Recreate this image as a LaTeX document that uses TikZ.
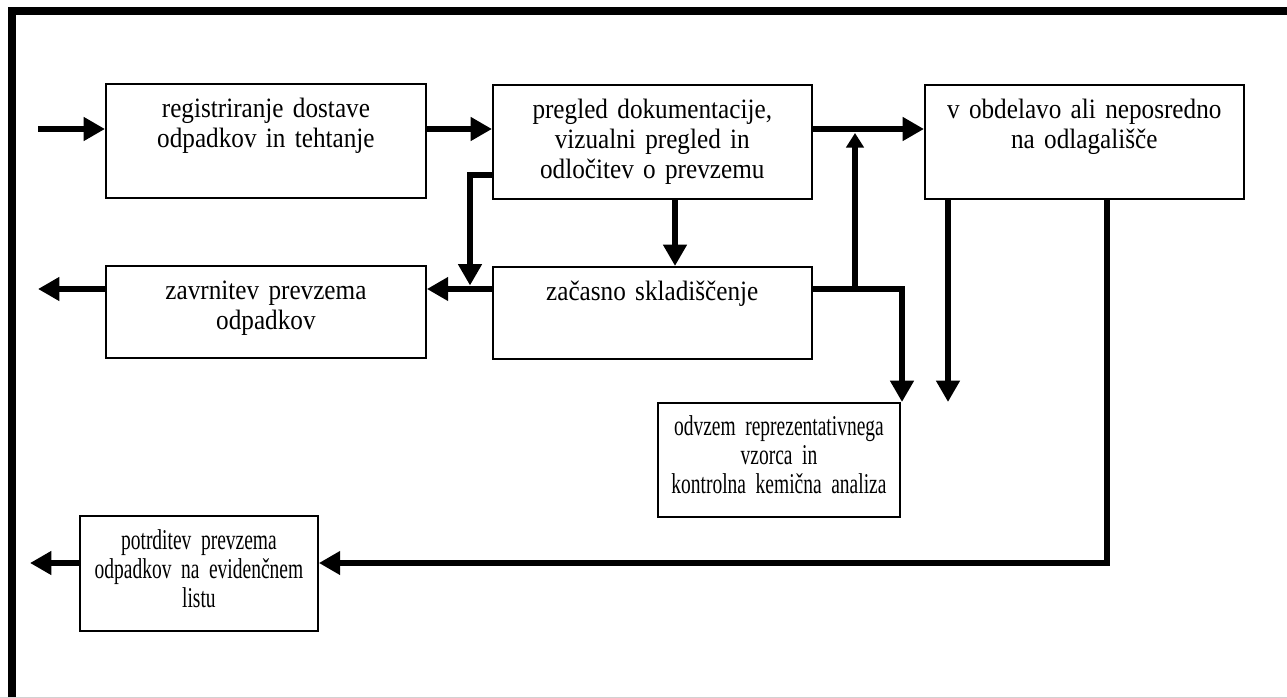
\documentclass[tikz,border=0pt]{standalone}
\usepackage{fontspec}
\setmainfont{Liberation Serif}[FakeStretch=0.9,WordSpace=0.8]
\newfontfamily\narrowfam{Liberation Serif}[FakeStretch=0.68,WordSpace=0.65]
\usepackage{tikz}
\usetikzlibrary{arrows.meta}

\tikzset{
  blk/.style={draw, line width=1.4pt, anchor=north west, inner sep=0pt, align=center, text height=25.5pt,
    font=\fontsize{21}{22.5}\selectfont},
  blknarrow/.style={blk, font=\narrowfam\fontsize{21.5}{21.75}\selectfont},
  arr/.style={line width=5.2pt, -{Triangle[length=16pt,width=17pt]}},
  arrthin/.style={line width=4.4pt, -{Triangle[length=11pt,width=13pt]}},
}

\begin{document}
\begin{tikzpicture}[x=0.75pt,y=0.75pt,yscale=-1]
  \useasboundingbox (0,0) rectangle (1287,698);

  % frame
  \draw[line width=6pt] (1287,11.5) -- (11.5,11.5) -- (11.5,697);
  \draw[black!18, line width=1pt] (0,697.5) -- (1287,697.5);

  % boxes
  \node[blk, text width=240pt, text depth=60pt] (reg) at (105,83) {registriranje dostave\\odpadkov in tehtanje};
  \node[blk, text width=239pt, text depth=60pt] (doc) at (492,84) {pregled dokumentacije,\\vizualni pregled in\\odločitev o prevzemu};
  \node[blk, text width=239pt, text depth=60pt] (obd) at (924,84) {v obdelavo ali neposredno\\na odlagališče};
  \node[blk, text width=240pt, text depth=43.5pt] (zav) at (105,265) {zavrnitev prevzema\\odpadkov};
  \node[blk, text width=239pt, text depth=43.5pt] (zac) at (492,266) {začasno skladiščenje};
  \node[blknarrow, text width=181.5pt, text height=24.75pt, text depth=60.75pt] (odv) at (657,402) {odvzem reprezentativnega\\vzorca in\\kontrolna kemična analiza};
  \node[blknarrow, text width=178.5pt, text depth=60.75pt] (pot) at (79,515) {potrditev prevzema\\odpadkov na evidenčnem\\listu};

  % helper points
  \coordinate (in) at (38,129);
  \coordinate (zr) at (902,289);
  \coordinate (up) at (855,289);
  \coordinate (uptip) at (855,133);
  \coordinate (ol) at (948,300);
  \coordinate (or) at (1107,563);
  \coordinate (out2) at (30,563);
  \coordinate (dl) at (470,175);
  \coordinate (dlb) at (470,285.5);
  \coordinate (dm) at (675,230);
  \coordinate (out1) at (38,289);

  % connectors
  \draw[arr] (in) -- (in -| reg.west);
  \draw[arr] (reg.east |- in) -- (doc.west |- in);
  \draw[arr] (doc.east |- in) -- (obd.west |- in);
  \draw[arr] (doc.south -| dm) -- (zac.north -| dm);
  \draw[arr] (doc.west |- dl) -- (dl) -- (dlb);
  \draw[arr] (zac.west |- zr) -- (zav.east |- zr);
  \draw[arr] (zav.west |- zr) -- (out1);
  \draw[arr] (zac.east |- zr) -- (zr) -- (zr |- odv.north);
  \draw[arrthin] (up) -- (uptip);
  \draw[arr] (obd.south -| ol) -- (odv.north -| ol);
  \draw[arr] (obd.south -| or) -- (or) -- (pot.east |- or);
  \draw[arr] (pot.west |- or) -- (out2);
\end{tikzpicture}
\end{document}
